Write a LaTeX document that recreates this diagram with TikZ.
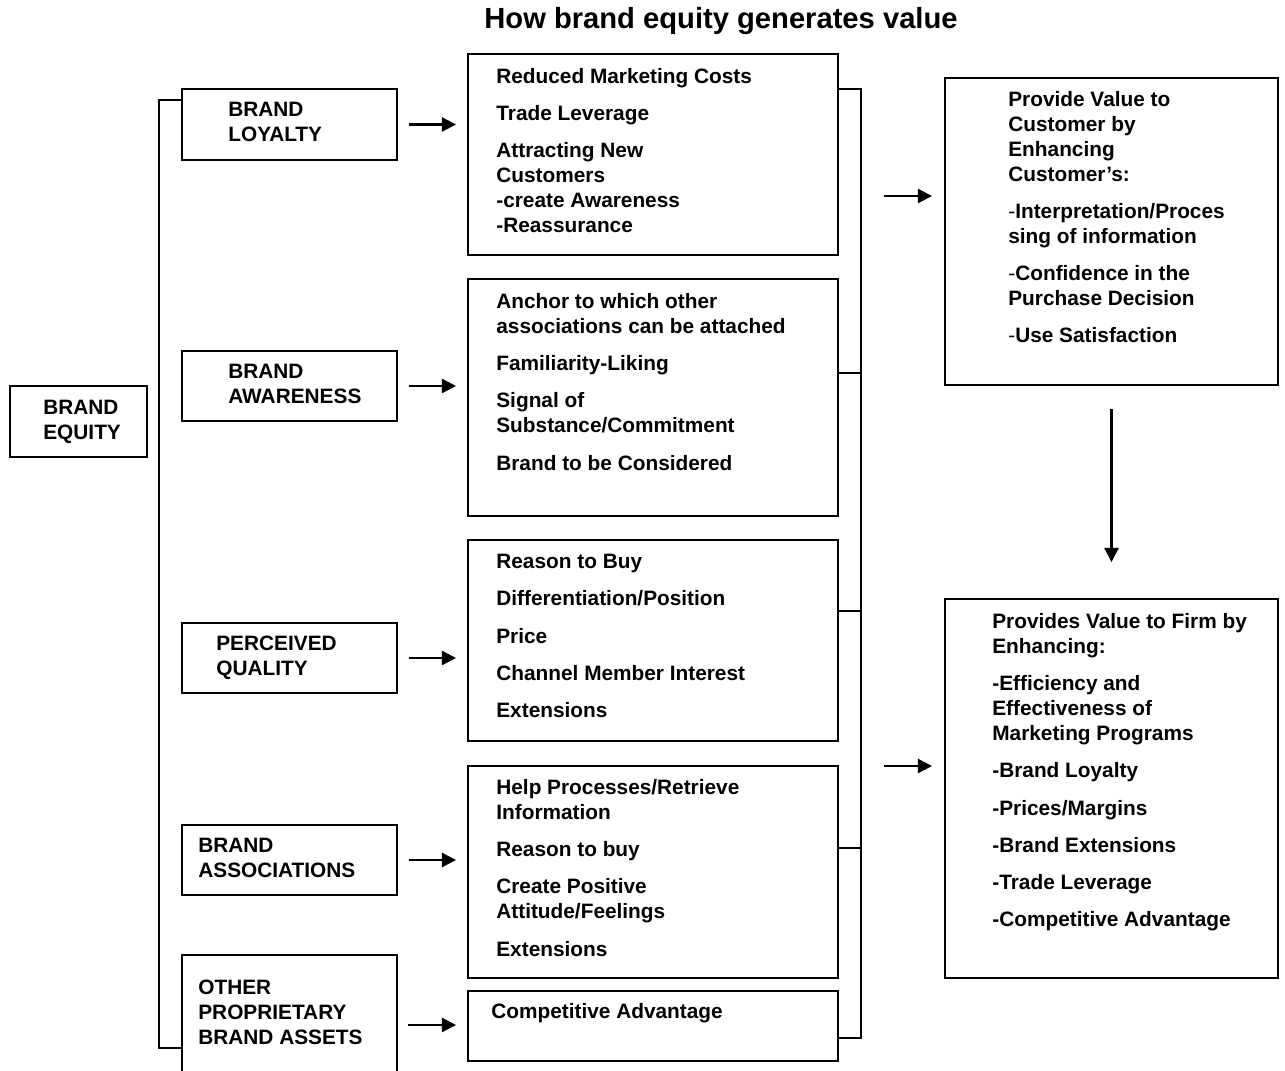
\documentclass[tikz,border=0pt]{standalone}
\usepackage{fontspec}
\setmainfont{Liberation Sans}
\usetikzlibrary{arrows.meta,fit}
\tikzset{
    box/.style={
        draw,
        fill=white,
        rectangle,
        inner sep=0pt,
        line width=1.1pt
    },
    boxtext/.style={
        anchor=north west,
        align=left,
        inner sep=0pt,
        font=\fontsize{11.85}{14.2}\selectfont\bfseries
    },
    title/.style={
        font=\fontsize{16.6}{20}\selectfont\bfseries
    },
    link/.style={
        line width=1.1pt
    },
    arrow/.style={
        -{Triangle[length=8pt,width=8pt]},
        line width=1.2pt
    }
}

\begin{document}
\begin{tikzpicture}[x=0.02cm,y=-0.02cm]
    \useasboundingbox (0,0) rectangle (1285,1071);

    % Title
    \node[title] (title) at (721,21) {How brand equity generates value};

    % Brand equity
    \node[box, fit={(10,386) (147,457)}] (equity) {};
    \node[boxtext] (equityTxt) at (43,400) {BRAND\\EQUITY};

    % Dimensions
    \node[box, fit={(182,89) (397,160)}] (loyalty) {};
    \node[boxtext] (loyaltyTxt) at (228,102) {BRAND\\LOYALTY};
    \node[box, fit={(182,351) (397,421)}] (awareness) {};
    \node[boxtext] (awarenessTxt) at (228,364) {BRAND\\AWARENESS};
    \node[box, fit={(182,623) (397,693)}] (quality) {};
    \node[boxtext] (qualityTxt) at (216,636) {PERCEIVED\\QUALITY};
    \node[box, fit={(182,825) (397,895)}] (assoc) {};
    \node[boxtext] (assocTxt) at (198,838) {BRAND\\ASSOCIATIONS};
    \node[box, fit={(182,955) (397,1090)}] (other) {};
    \node[boxtext] (otherTxt) at (198,980) {OTHER\\PROPRIETARY\\BRAND ASSETS};

    % Left bracket
    \coordinate (lbTop) at (159,100);
    \coordinate (lbBot) at (159,1048);
    \draw[link] (loyalty.west |- lbTop) -- (lbTop) -- (lbBot) -- (other.west |- lbBot);

    % Benefit lists
    \node[box, fit={(468,54) (838,255)}] (list1) {};
    \node[boxtext] (list1Txt) at (496,68) {Reduced Marketing Costs\\[7pt]
        Trade Leverage\\[7pt]
        Attracting New\\Customers\\-create Awareness\\-Reassurance};
    \node[box, fit={(468,279) (838,516)}] (list2) {};
    \node[boxtext] (list2Txt) at (496,293) {Anchor to which other\\associations can be attached\\[7pt]
        Familiarity-Liking\\[7pt]
        Signal of\\Substance/Commitment\\[7pt]
        Brand to be Considered};
    \node[box, fit={(468,540) (838,741)}] (list3) {};
    \node[boxtext] (list3Txt) at (496,554) {Reason to Buy\\[7pt]
        Differentiation/Position\\[7pt]
        Price\\[7pt]
        Channel Member Interest\\[7pt]
        Extensions};
    \node[box, fit={(468,766) (838,978)}] (list4) {};
    \node[boxtext] (list4Txt) at (496,779) {Help Processes/Retrieve\\Information\\[7pt]
        Reason to buy\\[7pt]
        Create Positive\\Attitude/Feelings\\[7pt]
        Extensions};
    \node[box, fit={(468,991) (838,1061)}] (list5) {};
    \node[boxtext] (list5Txt) at (491,1003) {Competitive Advantage};

    % Arrows to lists
    \foreach \from/\to in {loyalty/list1, awareness/list2, quality/list3, assoc/list4}
        \draw[arrow, shorten <=0.22cm, shorten >=0.22cm] (\from.east) -- (\from.east -| \to.west);
    \coordinate (otherArr) at (397,1025);
    \draw[arrow, shorten <=0.22cm, shorten >=0.22cm] (otherArr) -- (otherArr -| list5.west);

    % Right bracket
    \coordinate (rb1) at (861,89);
    \coordinate (rb2) at (861,373);
    \coordinate (rb3) at (861,611);
    \coordinate (rb4) at (861,848);
    \coordinate (rb5) at (861,1038);
    \draw[link] (list1.east |- rb1) -- (rb1) -- (rb5) -- (list5.east |- rb5);
    \foreach \n in {2,3,4}
        \draw[link] (list\n.east |- rb\n) -- (rb\n);

    % Value boxes
    \node[box, fit={(945,78) (1278,385)}] (customer) {};
    \node[boxtext] (customerTxt) at (1008,91) {Provide Value to\\Customer by\\Enhancing\\Customer's:\\[7pt]
        {\mdseries -}Interpretation/Proces\\sing of information\\[7pt]
        {\mdseries -}Confidence in the\\Purchase Decision\\[7pt]
        {\mdseries -}Use Satisfaction};
    \node[box, fit={(945,599) (1278,978)}] (firm) {};
    \node[boxtext] (firmTxt) at (992,613) {Provides Value to Firm by\\Enhancing:\\[7pt]
        -Efficiency and\\Effectiveness of\\Marketing Programs\\[7pt]
        -Brand Loyalty\\[7pt]
        -Prices/Margins\\[7pt]
        -Brand Extensions\\[7pt]
        -Trade Leverage\\[7pt]
        -Competitive Advantage};

    % Value arrows
    \coordinate (custArr) at (884,196);
    \coordinate (firmArr) at (884,766);
    \draw[arrow, shorten >=0.24cm] (custArr) -- (custArr -| customer.west);
    \draw[arrow, shorten >=0.24cm] (firmArr) -- (firmArr -| firm.west);
    \draw[arrow, shorten <=0.46cm, shorten >=0.72cm] (customer.south) -- (firm.north);
\end{tikzpicture}
\end{document}
